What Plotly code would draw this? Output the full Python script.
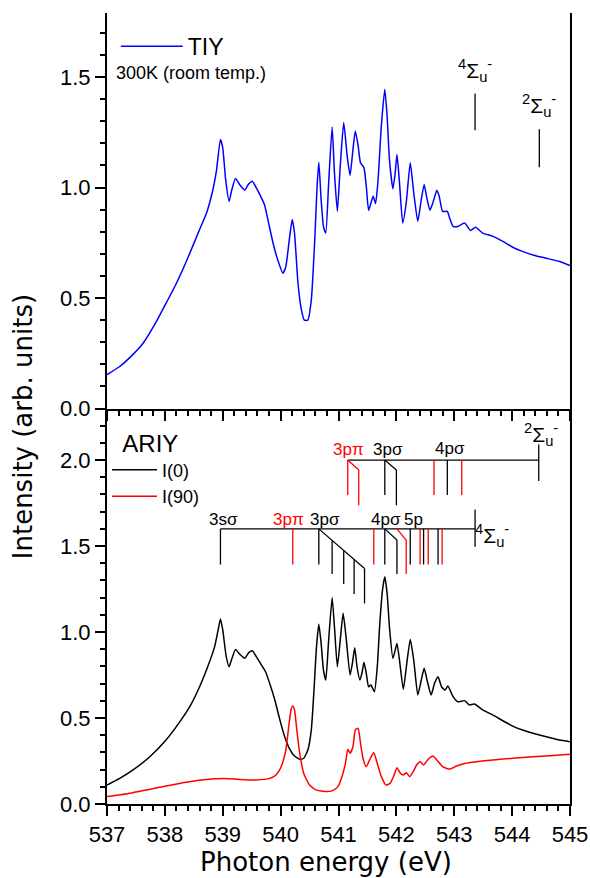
import plotly.graph_objects as go

# ---------------- data ----------------
# Top panel: TIY, 300 K
tiy_x = [537.0, 537.22, 537.45, 537.62, 537.85, 538.02, 538.2, 538.37, 538.6, 538.72, 538.83, 538.89,
         538.96, 539.0, 539.05, 539.11, 539.15, 539.22, 539.29, 539.38, 539.44, 539.51, 539.58, 539.64,
         539.72, 539.78, 539.87, 539.95, 540.04, 540.09, 540.15, 540.2, 540.24, 540.3, 540.36, 540.41,
         540.47, 540.53, 540.59, 540.63, 540.66, 540.7, 540.74, 540.78, 540.83, 540.89, 540.93, 540.98,
         541.03, 541.09, 541.15, 541.2, 541.25, 541.29, 541.34, 541.38, 541.44, 541.48, 541.52, 541.56,
         541.6, 541.64, 541.68, 541.74, 541.8, 541.84, 541.88, 541.94, 541.98, 542.01, 542.05, 542.11,
         542.17, 542.24, 542.3, 542.37, 542.43, 542.48, 542.52, 542.58, 542.63, 542.7, 542.74, 542.8,
         542.88, 542.92, 542.98, 543.06, 543.18, 543.28, 543.37, 543.49, 543.67, 543.84, 544.01, 544.18,
         544.36, 544.59, 544.82, 545.0]
tiy_y = [0.153, 0.19, 0.245, 0.294, 0.392, 0.476, 0.567, 0.665, 0.81, 0.885, 0.99, 1.074,
         1.218, 1.18, 1.036, 0.938, 0.983, 1.041, 1.014, 0.988, 1.014, 1.029, 0.998, 0.968,
         0.923, 0.855, 0.748, 0.673, 0.612, 0.642, 0.764, 0.855, 0.794, 0.567, 0.445, 0.4,
         0.4, 0.491, 0.764, 1.006, 1.115, 0.945, 0.824, 0.794, 1.021, 1.274, 1.067, 0.892,
         1.097, 1.294, 1.142, 1.055, 1.173, 1.256, 1.188, 1.112, 1.089, 1.006, 0.897, 0.93,
         0.961, 0.927, 1.021, 1.279, 1.445, 1.324, 1.127, 0.994, 1.067, 1.15, 1.036, 0.839,
         0.93, 1.112, 0.976, 0.847, 0.945, 1.014, 0.961, 0.897, 0.93, 0.988, 0.961, 0.892,
         0.892, 0.862, 0.824, 0.824, 0.839, 0.806, 0.82, 0.794, 0.779, 0.756, 0.73, 0.711,
         0.695, 0.68, 0.665, 0.647]

# Bottom panel: ARIY, I(0)
i0_x = [537.0, 537.22, 537.45, 537.74, 538.02, 538.26, 538.43, 538.6, 538.74, 538.86, 538.92, 538.96,
        539.0, 539.06, 539.11, 539.15, 539.22, 539.29, 539.38, 539.45, 539.51, 539.58, 539.67, 539.74,
        539.81, 539.9, 539.98, 540.07, 540.15, 540.24, 540.33, 540.4, 540.47, 540.53, 540.58, 540.62,
        540.66, 540.7, 540.74, 540.78, 540.83, 540.89, 540.93, 540.98, 541.03, 541.08, 541.13, 541.2,
        541.24, 541.28, 541.32, 541.37, 541.41, 541.44, 541.48, 541.52, 541.56, 541.62, 541.67, 541.71,
        541.76, 541.8, 541.84, 541.88, 541.94, 541.98, 542.01, 542.05, 542.12, 542.18, 542.24, 542.3,
        542.37, 542.43, 542.48, 542.53, 542.6, 542.66, 542.72, 542.78, 542.84, 542.89, 542.98, 543.06,
        543.18, 543.26, 543.35, 543.49, 543.67, 543.84, 544.01, 544.18, 544.36, 544.59, 544.82, 545.0]
i0_y = [0.11, 0.149, 0.198, 0.275, 0.372, 0.479, 0.566, 0.682, 0.798, 0.915, 1.012, 1.076,
        1.012, 0.857, 0.798, 0.837, 0.899, 0.872, 0.847, 0.88, 0.891, 0.857, 0.808, 0.769,
        0.702, 0.605, 0.498, 0.391, 0.324, 0.279, 0.26, 0.266, 0.314, 0.43, 0.682, 0.915,
        1.045, 0.934, 0.779, 0.721, 0.953, 1.2, 1.031, 0.798, 0.953, 1.109, 0.973, 0.75,
        0.818, 0.909, 0.798, 0.721, 0.769, 0.824, 0.76, 0.682, 0.692, 0.653, 0.798, 1.031,
        1.244, 1.322, 1.225, 1.031, 0.847, 0.895, 0.934, 0.847, 0.667, 0.818, 0.957, 0.837,
        0.634, 0.721, 0.789, 0.721, 0.634, 0.702, 0.74, 0.682, 0.663, 0.686, 0.624, 0.595,
        0.601, 0.576, 0.581, 0.547, 0.517, 0.484, 0.453, 0.43, 0.411, 0.391, 0.372, 0.362]

# Bottom panel: ARIY, I(90)
i90_x = [537.0, 537.45, 537.91, 538.31, 538.72, 539.03, 539.29, 539.58, 539.81, 539.92, 540.01, 540.09,
         540.14, 540.18, 540.21, 540.24, 540.28, 540.33, 540.4, 540.5, 540.62, 540.79, 540.9, 540.99,
         541.06, 541.12, 541.16, 541.2, 541.25, 541.29, 541.34, 541.38, 541.43, 541.48, 541.55, 541.61,
         541.67, 541.74, 541.82, 541.89, 541.95, 542.01, 542.07, 542.12, 542.17, 542.23, 542.29, 542.35,
         542.41, 542.47, 542.54, 542.63, 542.7, 542.8, 542.92, 543.04, 543.18, 543.38, 543.67, 544.01,
         544.36, 544.65, 545.0]
i90_y = [0.043, 0.066, 0.097, 0.124, 0.143, 0.149, 0.143, 0.14, 0.149, 0.169, 0.217, 0.314,
         0.45, 0.547, 0.57, 0.547, 0.43, 0.295, 0.178, 0.11, 0.081, 0.072, 0.078, 0.101,
         0.159, 0.236, 0.318, 0.295, 0.333, 0.43, 0.44, 0.353, 0.256, 0.217, 0.266, 0.298,
         0.236, 0.159, 0.11, 0.12, 0.159, 0.211, 0.178, 0.169, 0.182, 0.159, 0.188, 0.227,
         0.246, 0.227, 0.256, 0.279, 0.256, 0.217, 0.203, 0.221, 0.236, 0.246, 0.256, 0.266,
         0.275, 0.281, 0.289]

# Top panel: ionisation thresholds (position, line bottom, line top)
tiy_limits_x = [543.36, 544.47]
tiy_limits_lo = [1.259, 1.092]
tiy_limits_hi = [1.426, 1.264]
tiy_limit_labels = ["<sup>4</sup>Σ<sub>u</sub><sup>-</sup>", "<sup>2</sup>Σ<sub>u</sub><sup>-</sup>"]
tiy_label_y = [1.53, 1.37]

# Bottom panel: lower term ladder (4Σu-)
low_base = 1.6
low_start, low_end = 538.96, 543.36
low_limit_lo, low_limit_hi = 1.496, 1.713
low_stick_bottom = 1.393
low_black_sticks = [538.96, 540.66, 541.80, 542.24, 542.47, 542.72]
low_red_sticks = [540.21, 541.61, 542.41, 542.55, 542.79]
# 3p-sigma vibrational progression (diagonal from its origin)
prog_origin = 540.66
prog_x = [540.89, 541.09, 541.27, 541.45]
prog_top = [1.532, 1.475, 1.422, 1.370]
prog_bottom = [1.337, 1.279, 1.221, 1.167]
# 4p-sigma / 5p shifted sticks: (origin, stick, stick top, stick bottom)
low_black_shift = (541.80, 542.01, 1.535, 1.337)
low_red_shift = (542.01, 542.17, 1.535, 1.337)

# Bottom panel: upper term ladder (2Σu-)
up_base = 2.0
up_start, up_end = 541.16, 544.46
up_limit_lo, up_limit_hi = 1.878, 2.091
up_stick_bottom = 1.797
up_black_sticks = [541.80, 542.88]
up_red_sticks = [541.16, 542.65, 543.13]
up_black_shift = (541.80, 542.00, 1.942, 1.738)
up_red_shift = (541.16, 541.35, 1.942, 1.738)

# ladder labels: (x, y, text, colour)
ladder_labels = [
    (539.02, 1.655, "3sσ", "black"), (540.14, 1.655, "3pπ", "red"), (540.76, 1.655, "3pσ", "black"),
    (541.82, 1.655, "4pσ", "black"), (542.29, 1.655, "5p", "black"),
    (541.17, 2.06, "3pπ", "red"), (541.86, 2.06, "3pσ", "black"), (542.93, 2.065, "4pσ", "black"),
]
sigma_labels = [(543.66, 1.56, "<sup>4</sup>Σ<sub>u</sub><sup>-</sup>"),
                (544.50, 2.15, "<sup>2</sup>Σ<sub>u</sub><sup>-</sup>")]

FONT = "Liberation Sans, Arial, sans-serif"
TITLE_FONT = "DejaVu Sans, sans-serif"

fig = go.Figure()

# spectra
fig.add_trace(go.Scatter(x=tiy_x, y=tiy_y, mode="lines", name="TIY", xaxis="x2", yaxis="y2",
                         line=dict(color="#0000FF", width=1.5, shape="spline", smoothing=0.5),
                         legend="legend"))
fig.add_trace(go.Scatter(x=i0_x, y=i0_y, mode="lines", name="I(0)", xaxis="x", yaxis="y",
                         line=dict(color="black", width=1.5, shape="spline", smoothing=0.5),
                         legend="legend2"))
fig.add_trace(go.Scatter(x=i90_x, y=i90_y, mode="lines", name="I(90)", xaxis="x", yaxis="y",
                         line=dict(color="#FF0000", width=1.5, shape="spline", smoothing=0.5),
                         legend="legend2"))


def segs(pairs):
    xs, ys = [], []
    for (x0, y0, x1, y1) in pairs:
        xs += [x0, x1, None]
        ys += [y0, y1, None]
    return xs, ys


# top-panel threshold markers
xs, ys = segs([(x, lo, x, hi) for x, lo, hi in zip(tiy_limits_x, tiy_limits_lo, tiy_limits_hi)])
fig.add_trace(go.Scatter(x=xs, y=ys, mode="lines", xaxis="x2", yaxis="y2", showlegend=False,
                         hoverinfo="skip", line=dict(color="black", width=1.3)))

# ladders: black
black = [(low_start, low_base, low_end, low_base), (low_end, low_limit_lo, low_end, low_limit_hi)]
black += [(x, low_base, x, low_stick_bottom) for x in low_black_sticks]
black += [(prog_origin, low_base, prog_x[-1], prog_top[-1])]
black += [(x, t, x, b) for x, t, b in zip(prog_x, prog_top, prog_bottom)]
bx0, bx1, bt, bb = low_black_shift
black += [(bx0, low_base, bx1, bt), (bx1, bt, bx1, bb)]
black += [(up_start, up_base, up_end, up_base), (up_end, up_limit_lo, up_end, up_limit_hi)]
black += [(x, up_base, x, up_stick_bottom) for x in up_black_sticks]
ux0, ux1, ut, ub = up_black_shift
black += [(ux0, up_base, ux1, ut), (ux1, ut, ux1, ub)]
xs, ys = segs(black)
fig.add_trace(go.Scatter(x=xs, y=ys, mode="lines", xaxis="x", yaxis="y", showlegend=False,
                         hoverinfo="skip", line=dict(color="black", width=1.3)))

red = [(x, low_base, x, low_stick_bottom) for x in low_red_sticks]
rx0, rx1, rt, rb = low_red_shift
red += [(rx0, low_base, rx1, rt), (rx1, rt, rx1, rb)]
red += [(x, up_base, x, up_stick_bottom) for x in up_red_sticks]
vx0, vx1, vt, vb = up_red_shift
red += [(vx0, up_base, vx1, vt), (vx1, vt, vx1, vb)]
xs, ys = segs(red)
fig.add_trace(go.Scatter(x=xs, y=ys, mode="lines", xaxis="x", yaxis="y", showlegend=False,
                         hoverinfo="skip", line=dict(color="#FF0000", width=1.3)))

annotations = []
for x, y, t, c in ladder_labels:
    annotations.append(dict(x=x, y=y, xref="x", yref="y", text=t, showarrow=False,
                            font=dict(size=17, color=c, family=FONT)))
for x, y, t in sigma_labels:
    annotations.append(dict(x=x, y=y, xref="x", yref="y", text=t, showarrow=False,
                            font=dict(size=21, color="black", family=FONT)))
for x, y, t in zip(tiy_limits_x, tiy_label_y, tiy_limit_labels):
    annotations.append(dict(x=x, y=y, xref="x2", yref="y2", text=t, showarrow=False,
                            font=dict(size=21, color="black", family=FONT)))
annotations.append(dict(x=538.45, y=1.518, xref="x2", yref="y2", text="300K (room temp.)",
                        showarrow=False, font=dict(size=18, color="black", family=FONT)))
annotations.append(dict(x=0.473, y=-0.0733, xref="paper", yref="paper", text="Photon energy (eV)",
                        showarrow=False, xanchor="center", yanchor="middle",
                        font=dict(size=26, color="black", family=TITLE_FONT)))
annotations.append(dict(x=-0.181, y=0.4766, xref="paper", yref="paper", text="Intensity (arb. units)",
                        showarrow=False, textangle=-90, xanchor="center", yanchor="middle",
                        font=dict(size=26, color="black", family=TITLE_FONT)))

axis_common = dict(showline=True, linecolor="black", linewidth=2, ticks="outside", tickcolor="black",
                   tickwidth=1.5, showgrid=False, zeroline=False, automargin=False)

fig.update_layout(
    width=590, height=878,
    margin=dict(l=107, r=20, t=13, b=74, autoexpand=False),
    paper_bgcolor="white", plot_bgcolor="white",
    font=dict(family=FONT, color="black"),
    showlegend=True,
    xaxis=dict(domain=[0, 1], anchor="y", range=[537, 545], dtick=1, tick0=537, ticklen=10,
               minor=dict(dtick=0.2, ticklen=5, ticks="outside", tickcolor="black", tickwidth=1.5),
               tickfont=dict(size=22), **axis_common),
    yaxis=dict(domain=[0, 0.5], anchor="x", range=[0, 2.3], dtick=0.5, tick0=0, tickformat=".1f",
               ticklen=10, mirror=True,
               minor=dict(dtick=0.1, ticklen=5, ticks="outside", tickcolor="black", tickwidth=1.5),
               tickfont=dict(size=22), **axis_common),
    xaxis2=dict(domain=[0, 1], anchor="y2", range=[537, 545], dtick=1, tick0=537, ticklen=10,
                showticklabels=False, matches="x",
                minor=dict(dtick=0.2, ticklen=5, ticks="outside", tickcolor="black", tickwidth=1.5),
                **axis_common),
    yaxis2=dict(domain=[0.5, 1], anchor="x2", range=[0, 1.79], dtick=0.5, tick0=0, tickformat=".1f",
                ticklen=10, mirror=True,
                minor=dict(dtick=0.1, ticklen=5, ticks="outside", tickcolor="black", tickwidth=1.5),
                tickfont=dict(size=22), **axis_common),
    xaxis3=dict(overlaying="x2", side="top", anchor="y2", range=[537, 545], dtick=0.2, tick0=537,
                ticklen=3, showticklabels=False, **axis_common),
    yaxis3=dict(overlaying="y2", side="right", anchor="x2", range=[0, 1.79], dtick=0.1, tick0=0,
                ticklen=3, showticklabels=False, **axis_common),
    yaxis4=dict(overlaying="y", side="right", anchor="x", range=[0, 8], dtick=1, tick0=0,
                ticklen=3, showticklabels=False, **axis_common),
    legend=dict(x=0.019, y=0.985, xanchor="left", yanchor="top", bgcolor="rgba(0,0,0,0)",
                font=dict(size=23, family=FONT), itemwidth=62),
    legend2=dict(x=0.0, y=0.485, xanchor="left", yanchor="top", bgcolor="rgba(0,0,0,0)",
                 title=dict(text="\u00a0\u00a0ARIY", font=dict(size=24, family=FONT)),
                 font=dict(size=18, family=FONT), itemwidth=45, tracegroupgap=0),
    annotations=annotations,
)

fig.write_html("out.html", config={"displayModeBar": False},
               post_script="document.body.style.margin='0px';")
